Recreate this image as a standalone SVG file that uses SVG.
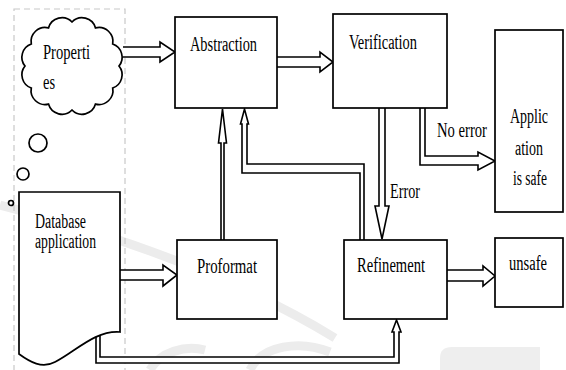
<svg xmlns="http://www.w3.org/2000/svg" width="566" height="370" viewBox="0 0 566 370">
<style>
.box{fill:#fff;stroke:#000;stroke-width:1.7}
.arr{fill:#fff;stroke:#000;stroke-width:1.6;stroke-linejoin:miter}
.t{font-family:"Liberation Serif","Times New Roman",serif;font-size:20px;fill:#000}
.wm{fill:none;stroke:#ececec;stroke-width:9}
</style>
<rect width="566" height="370" fill="#fff"/>
<g id="watermark">
<path class="wm" d="M0,205 C90,228 220,268 335,338"/>
<path class="wm" d="M150,370 C160,352 185,345 205,350"/>
<path class="wm" d="M330,352 C300,340 262,345 250,370"/>
<path d="M440,370 V358 Q440,347 452,347 H540 V370 Z" fill="#eeeeee"/>
</g>
<rect x="14" y="9" width="111" height="380" fill="none" stroke="#c8c8c8" stroke-width="1.2" stroke-dasharray="6,4"/>
<g id="connectors">
<path class="arr" d="M123,47 H160 V42 L175,52 L160,62 V57 H123"/>
<path class="arr" d="M277,57 H320 V52 L333,62 L320,72 V67 H277"/>
<path class="arr" d="M120,270 H163 V265 L177,275 L163,286 V280 H120"/>
<path class="arr" d="M447,270 H483 V266 L495,276 L483,286 V281 H447"/>
<path class="arr" d="M379,108 V206 H375 L382,239 L389,206 H385 V108"/>
<path class="arr" d="M420,108 V165 H478 V170 L495,161 L478,152 V156 H425 V108"/>
<path class="arr" d="M221,240 V143 H218.5 L222.5,109 L226.5,143 H224 V240"/>
<path class="arr" d="M360,240 V173 H242 V124 H240.5 L244.5,109 L248.5,124 H247 V164 H364 V240"/>
<path class="arr" d="M96,336 V363 H399 V332 H401 L396.5,320 L392,332 H394 V357 H100 V336"/>
</g>
<g id="properties">
<path class="box" d="M119,66 A14,14 0 0 1 112.7,88 A14,14 0 0 1 95.5,104.1 A14,14 0 0 1 72,110 A14,14 0 0 1 48.5,104.1 A14,14 0 0 1 31.3,88 A14,14 0 0 1 25,66 A14,14 0 0 1 31.3,44 A14,14 0 0 1 48.5,27.9 A14,14 0 0 1 72,22 A14,14 0 0 1 95.5,27.9 A14,14 0 0 1 112.7,44 A14,14 0 0 1 119,66 Z"/>
<text class="t" x="43" y="59" textLength="47" lengthAdjust="spacingAndGlyphs">Properti</text>
<text class="t" x="43" y="89" textLength="12" lengthAdjust="spacingAndGlyphs">es</text>
</g>
<g id="thought-bubbles">
<circle class="box" cx="38" cy="143" r="9"/>
<circle class="box" cx="23" cy="174" r="6"/>
<circle class="box" cx="11" cy="203" r="2.5"/>
</g>
<g id="database">
<path class="box" d="M19,192 H120 V332 C95,330 75,352 55,362 C42,369 30,362 19,354 Z"/>
<text class="t" x="35" y="228" textLength="51" lengthAdjust="spacingAndGlyphs">Database</text>
<text class="t" x="35" y="248" textLength="61" lengthAdjust="spacingAndGlyphs">application</text>
</g>
<g id="abstraction">
<rect class="box" x="175" y="17" width="102" height="91"/>
<text class="t" x="190" y="51" textLength="67" lengthAdjust="spacingAndGlyphs">Abstraction</text>
</g>
<g id="verification">
<rect class="box" x="333" y="14" width="114" height="94"/>
<text class="t" x="349" y="49" textLength="68" lengthAdjust="spacingAndGlyphs">Verification</text>
</g>
<g id="safe">
<rect class="box" x="495" y="30" width="68" height="182"/>
<text class="t" x="510" y="123" textLength="38" lengthAdjust="spacingAndGlyphs">Applic</text>
<text class="t" x="515" y="155" textLength="28" lengthAdjust="spacingAndGlyphs">ation</text>
<text class="t" x="513" y="185" textLength="34" lengthAdjust="spacingAndGlyphs">is safe</text>
</g>
<g id="proformat">
<rect class="box" x="177" y="240" width="100" height="79"/>
<text class="t" x="197" y="273" textLength="60" lengthAdjust="spacingAndGlyphs">Proformat</text>
</g>
<g id="refinement">
<rect class="box" x="344" y="240" width="103" height="79"/>
<text class="t" x="357" y="272" textLength="68" lengthAdjust="spacingAndGlyphs">Refinement</text>
</g>
<g id="unsafe">
<rect class="box" x="495" y="238" width="68" height="69"/>
<text class="t" x="509" y="270" textLength="38" lengthAdjust="spacingAndGlyphs">unsafe</text>
</g>
<g id="labels">
<text class="t" x="437" y="137" textLength="50" lengthAdjust="spacingAndGlyphs">No error</text>
<text class="t" x="390" y="198" textLength="30" lengthAdjust="spacingAndGlyphs">Error</text>
</g>
</svg>
